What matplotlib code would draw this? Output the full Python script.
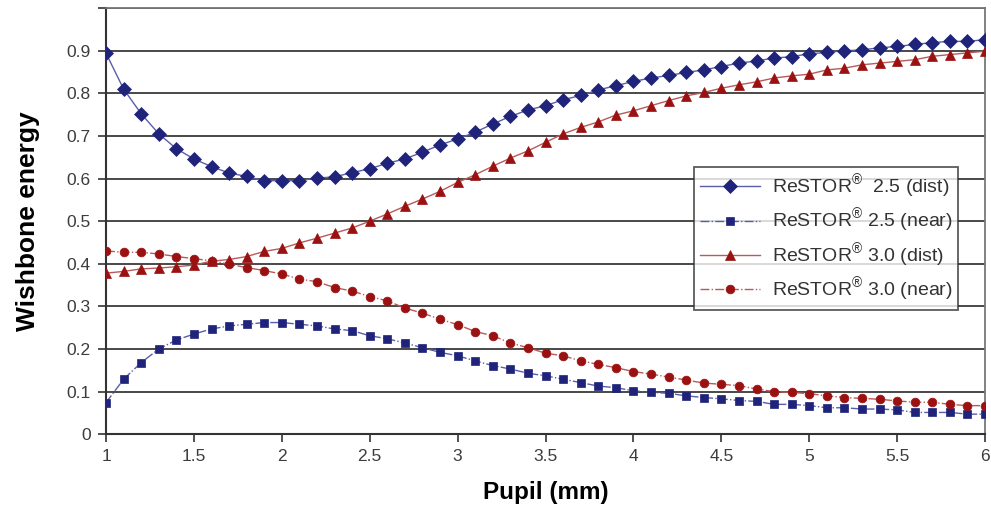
import matplotlib.pyplot as plt

# pupil diameter (mm), 1.0 .. 6.0 in steps of 0.1
pupil = [round(1 + 0.1 * i, 1) for i in range(51)]

restor25_dist = [0.894, 0.810, 0.752, 0.705, 0.670, 0.646, 0.628, 0.613, 0.605, 0.595,
                 0.595, 0.595, 0.601, 0.604, 0.614, 0.623, 0.636, 0.646, 0.662, 0.679,
                 0.693, 0.709, 0.728, 0.746, 0.761, 0.771, 0.785, 0.795, 0.808, 0.818,
                 0.828, 0.836, 0.842, 0.849, 0.855, 0.863, 0.871, 0.876, 0.883, 0.886,
                 0.893, 0.896, 0.900, 0.902, 0.907, 0.910, 0.915, 0.919, 0.922, 0.922,
                 0.926]

restor25_near = [0.074, 0.129, 0.168, 0.200, 0.221, 0.235, 0.247, 0.254, 0.258, 0.262,
                 0.262, 0.258, 0.254, 0.247, 0.243, 0.231, 0.224, 0.214, 0.203, 0.192,
                 0.184, 0.172, 0.161, 0.153, 0.143, 0.137, 0.129, 0.121, 0.113, 0.109,
                 0.102, 0.098, 0.096, 0.090, 0.086, 0.083, 0.079, 0.077, 0.070, 0.070,
                 0.067, 0.062, 0.062, 0.059, 0.059, 0.057, 0.051, 0.051, 0.051, 0.047,
                 0.047]

restor30_dist = [0.378, 0.382, 0.388, 0.390, 0.393, 0.397, 0.406, 0.410, 0.417, 0.429,
                 0.436, 0.449, 0.460, 0.472, 0.484, 0.500, 0.517, 0.535, 0.552, 0.570,
                 0.591, 0.609, 0.629, 0.648, 0.665, 0.685, 0.705, 0.720, 0.733, 0.749,
                 0.759, 0.771, 0.783, 0.794, 0.802, 0.812, 0.820, 0.827, 0.836, 0.841,
                 0.845, 0.855, 0.859, 0.867, 0.871, 0.875, 0.879, 0.887, 0.891, 0.895,
                 0.899]

restor30_near = [0.430, 0.427, 0.427, 0.423, 0.417, 0.412, 0.407, 0.399, 0.391, 0.384,
                 0.376, 0.364, 0.358, 0.344, 0.336, 0.323, 0.313, 0.296, 0.284, 0.270,
                 0.257, 0.241, 0.231, 0.214, 0.203, 0.190, 0.184, 0.172, 0.164, 0.156,
                 0.147, 0.141, 0.134, 0.127, 0.120, 0.117, 0.114, 0.106, 0.100, 0.098,
                 0.095, 0.090, 0.086, 0.084, 0.082, 0.078, 0.075, 0.075, 0.070, 0.067,
                 0.067]

x_ticks = [1, 1.5, 2, 2.5, 3, 3.5, 4, 4.5, 5, 5.5, 6]
x_tick_labels = ['1', '1.5', '2', '2.5', '3', '3.5', '4', '4.5', '5', '5.5', '6']
y_ticks = [0, 0.1, 0.2, 0.3, 0.4, 0.5, 0.6, 0.7, 0.8, 0.9]
y_tick_labels = ['0', '0.1', '0.2', '0.3', '0.4', '0.5', '0.6', '0.7', '0.8', '0.9']

plt.rcParams['font.family'] = ['Liberation Sans', 'DejaVu Sans']
plt.rcParams['mathtext.fontset'] = 'custom'
plt.rcParams['mathtext.rm'] = 'Liberation Sans'

blue = '#1f237a'
red = '#9b1111'
blue_line = '#5a5ea8'
red_line = '#b85a5a'

fig = plt.figure(figsize=(9.91, 5.09), dpi=100)
ax = fig.add_axes([0.107, 0.147, 0.887, 0.837])

ax.plot(pupil, restor25_dist, color=blue_line, lw=1.0, marker='D', ms=6.8,
        mfc=blue, mec=blue, mew=0.5, label=r'ReSTOR$^{\circledR}$  2.5 (dist)', zorder=4)
ax.plot(pupil, restor25_near, color=blue_line, lw=1.0, ls='-.', marker='s', ms=6.3,
        mfc=blue, mec=blue, mew=0.5, label=r'ReSTOR$^{\circledR}$ 2.5 (near)', zorder=4)
ax.plot(pupil, restor30_dist, color=red_line, lw=1.0, marker='^', ms=6.8,
        mfc=red, mec=red, mew=0.5, label=r'ReSTOR$^{\circledR}$ 3.0 (dist)', zorder=4)
ax.plot(pupil, restor30_near, color=red_line, lw=1.0, ls='-.', marker='o', ms=6.3,
        mfc=red, mec=red, mew=0.5, label=r'ReSTOR$^{\circledR}$ 3.0 (near)', zorder=4)

ax.set_xlim(1, 6)
ax.set_ylim(0, 1)
ax.set_xticks(x_ticks)
ax.set_xticklabels(x_tick_labels)
ax.set_yticks(y_ticks + [1.0])
ax.set_yticklabels(y_tick_labels + [''])
ax.tick_params(axis='both', direction='out', length=6, width=1.2,
               labelsize=12.5, labelcolor='#3c3c3c', color='#333333')
ax.tick_params(axis='x', pad=5)
ax.tick_params(axis='y', pad=5)
ax.yaxis.grid(True, color='#3a3a3a', lw=1.3)
ax.set_axisbelow(True)

for side in ['left', 'bottom']:
    ax.spines[side].set_color('#333333')
    ax.spines[side].set_linewidth(1.5)
for side in ['top', 'right']:
    ax.spines[side].set_color('#777777')
    ax.spines[side].set_linewidth(1.3)

ax.set_xlabel('Pupil (mm)', fontsize=17.5, fontweight='bold', labelpad=12)
ax.set_ylabel('Wishbone energy', fontsize=19, fontweight='bold', labelpad=19)

leg = ax.legend(loc='upper left', bbox_to_anchor=(0.658, 0.651), fontsize=14,
                frameon=True, fancybox=False, edgecolor='#333333',
                handlelength=3.1, handletextpad=0.6, borderpad=0.3,
                borderaxespad=0.5, labelspacing=0.3, labelcolor='#333333')
leg.get_frame().set_linewidth(1.3)
leg.set_zorder(5)

fig.savefig('out.png', dpi=100)
